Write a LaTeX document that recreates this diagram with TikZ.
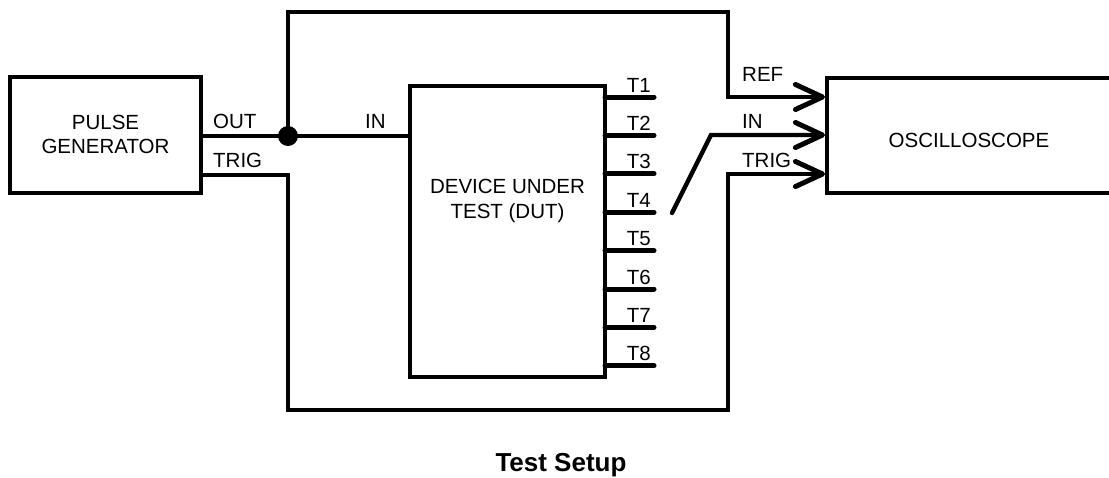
\documentclass[tikz,border=0pt]{standalone}
\usepackage{fontspec}
\setmainfont{Liberation Sans}
\usetikzlibrary{arrows.meta}
\begin{document}
\begin{tikzpicture}[x=1pt,y=-1pt,
  box/.style={draw, line width=4.3pt, rectangle, inner sep=0pt},
  wire/.style={line width=4.3pt, line join=miter},
  pin/.style={line width=5pt, line cap=round},
  lbl/.style={font=\fontsize{20.5}{24.5}\selectfont, inner sep=0pt},
  probe/.style={-{Straight Barb[length=27pt,width=25pt,round,line width=5pt]}}
]
\useasboundingbox (0,0) rectangle (1109,477);
% blocks
\node[box, minimum width=191pt, minimum height=116pt] (pg) at (105.5,135) {};
\node[lbl, align=center] (pgt) at (105.5,134.5) {PULSE\\GENERATOR};
\node[box, minimum width=195pt, minimum height=291pt] (dut) at (507.5,231.5) {};
\node[lbl, align=center] (dutt) at (507.5,201) {DEVICE UNDER\\TEST (DUT)};
\node[box, minimum width=320pt, minimum height=115pt, anchor=west] (osc) at (825,135.5) {};
\node[lbl] (osct) at (969,140.5) {OSCILLOSCOPE};
\node[circle, fill, inner sep=0pt, minimum size=20pt] (dot) at (288,136) {};
% coordinates
\coordinate (pgout) at (201,136);
\coordinate (pgtrig) at (201,175);
\coordinate (dutin) at (410,136);
\coordinate (top1) at (288,12);
\coordinate (top2) at (728,12);
\coordinate (refc) at (728,97);
\coordinate (oscref) at (825,97);
\coordinate (oscin) at (825,135);
\coordinate (osctrig) at (825,174);
\coordinate (tr1) at (288,175);
\coordinate (tr2) at (288,410);
\coordinate (tr3) at (728,410);
\coordinate (tr4) at (728,174);
\coordinate (sw0) at (672,213);
\coordinate (sw1) at (711,135);
% wires
\draw[wire] (pgout) -- (dot.center) -- (dutin);
\draw[wire,probe] (dot.center) -- (top1) -- (top2) -- (refc) -- (oscref);
\draw[wire,probe] (pgtrig) -- (tr1) -- (tr2) -- (tr3) -- (tr4) -- (osctrig);
\draw[wire,probe,line cap=round] (sw0) -- (sw1) -- (oscin);
% pins
\foreach \i in {1,...,8} {
  \pgfmathsetmacro\yy{97+38.4*(\i-1)}
  \coordinate (p\i) at (654,\yy);
  \coordinate (q\i) at (605,\yy);
  \draw[pin] (q\i) -- (p\i);
  \node[lbl, anchor=base east] (t\i) at (651,\yy-5) {T\i};
}
% labels
\node[lbl, anchor=base west] (lout) at (213,128) {OUT};
\node[lbl, anchor=base west] (ltrig) at (213,167) {TRIG};
\node[lbl, anchor=base west] (lin) at (365,128) {IN};
\node[lbl, anchor=base west] (lref) at (742,81) {REF};
\node[lbl, anchor=base west] (lin2) at (742,128) {IN};
\node[lbl, anchor=base west] (ltrig2) at (742,167) {TRIG};
\node[font=\bfseries\fontsize{26}{30}\selectfont, inner sep=0pt, anchor=base] (title) at (561,471) {Test Setup};
\end{tikzpicture}
\end{document}
